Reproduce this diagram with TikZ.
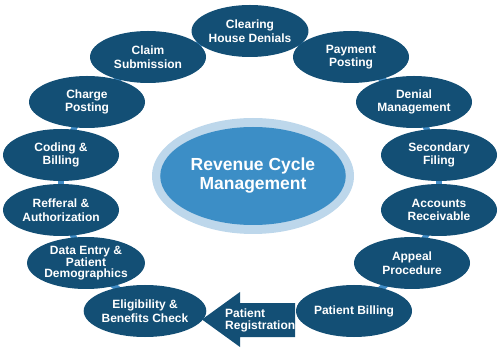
\documentclass[tikz,border=0pt]{standalone}
\usepackage{fontspec}
\setmainfont{Liberation Sans}
\usetikzlibrary{shapes.geometric,backgrounds}

\begin{document}
\begin{tikzpicture}[x=1pt,y=-1pt,
  stage/.style={ellipse, fill=stagecol, text=white, inner sep=0pt,
    minimum width=116pt, minimum height=52pt, align=center,
    font=\bfseries\fontsize{12}{13.5}\selectfont},
  link/.style={draw=linkcol, line width=6pt}]

\definecolor{stagecol}{RGB}{19,79,117}
\definecolor{linkcol}{RGB}{64,140,198}
\definecolor{hubcol}{RGB}{60,142,198}
\definecolor{halocol}{RGB}{189,215,235}

\useasboundingbox (0,0) rectangle (500,352);

% ---------------- hub ----------------
\fill[halocol] (253,176) ellipse [x radius=101, y radius=58];
\node[ellipse, fill=hubcol, minimum width=176pt, minimum height=98pt,
  text=white, align=center, font=\bfseries\fontsize{17.5}{19}\selectfont]
  (hub) at (253,176) {Revenue Cycle\\Management};

% ---------------- stages ----------------
\node[stage] (clearing)    at (250,31)  {Clearing\\House Denials};
\node[stage] (payment)     at (351,57)  {Payment\\Posting};
\node[stage] (denial)      at (414,102) {Denial\\Management};
\node[stage] (secondary)   at (439,155) {Secondary\\Filing};
\node[stage] (receivable)  at (439,210) {Accounts\\Receivable};
\node[stage] (appeal)      at (412,263) {Appeal\\Procedure};
\node[stage] (billing)     at (354,311) {Patient Billing};
\node[stage] (eligibility) at (145,311) {Eligibility \&\\Benefits Check};
\node[stage, font=\bfseries\fontsize{12}{11}\selectfont]
             (dataentry)   at (86,263)  {Data Entry \&\\Patient\\Demographics};
\node[stage] (referral)    at (61,210)  {Refferal \&\\Authorization};
\node[stage] (coding)      at (61,155)  {Coding \&\\Billing};
\node[stage] (charge)      at (87,102)  {Charge\\Posting};
\node[stage] (claim)       at (148,57)  {Claim\\Submission};

% ---------------- links behind the stages ----------------
\begin{scope}[on background layer]
\foreach \a/\b in {clearing/payment, payment/denial, denial/secondary,
  secondary/receivable, receivable/appeal, appeal/billing,
  eligibility/dataentry, dataentry/referral, referral/coding,
  coding/charge, charge/claim, claim/clearing}
  \draw[link] (\a.center) -- (\b.center);
\end{scope}

% ---------------- registration arrow ----------------
\fill[stagecol] (295,303) -- (240,303) -- (240,292) -- (202,319.5)
  -- (240,347) -- (240,337) -- (295,337) -- cycle;
\node[anchor=west, text=white, align=left, inner sep=0pt,
  font=\bfseries\fontsize{12}{12}\selectfont]
  (registration) at (225,320) {Patient\\Registration};

\end{tikzpicture}
\end{document}
